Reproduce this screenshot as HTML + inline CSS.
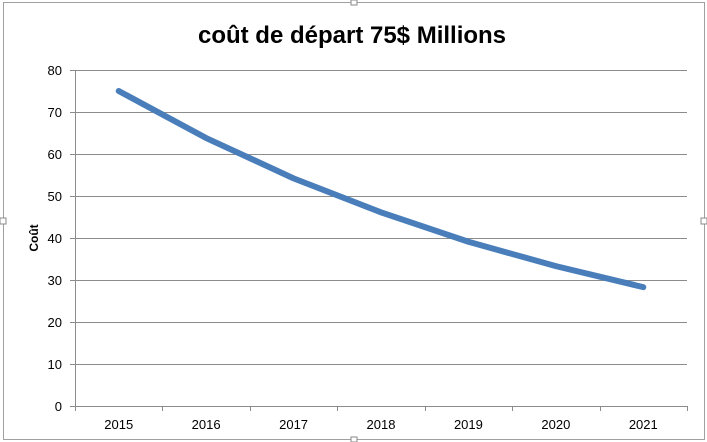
<!DOCTYPE html>
<html><head><meta charset="utf-8"><style>
body{margin:0;width:707px;height:442px;background:#fff;overflow:hidden}
svg{display:block;font-family:"Liberation Sans",Calibri,sans-serif}
</style></head><body>
<svg width="707" height="442">
<rect x="3.5" y="2.5" width="701" height="437" fill="#fff" stroke="#a0a0a0"/>
<rect x="351" y="0" width="6" height="5" fill="#fff" stroke="#888"/>
<rect x="351" y="437" width="6" height="5" fill="#fff" stroke="#888"/>
<rect x="0" y="218" width="6" height="6" fill="#fff" stroke="#888"/>
<rect x="701" y="218" width="6" height="6" fill="#fff" stroke="#888"/>
<text x="352" y="43" text-anchor="middle" font-size="24" font-weight="bold" fill="#000">coût de départ 75$ Millions</text>
<text transform="translate(38,238) rotate(-90)" text-anchor="middle" font-size="12" font-weight="bold">Coût</text>
<g id="grid"></g><g id="axes"></g><g id="series"></g>
</svg>
<script>
const categories=["2015","2016","2017","2018","2019","2020","2021"];
const values=[75,63.8,54.2,46.1,39.1,33.3,28.3];
const yTicks=[0,10,20,30,40,50,60,70,80];
const x0=75,x1=687,yTop=70,yBot=406,yMax=80;
const bw=(x1-x0)/categories.length;
const xs=i=>x0+bw*(i+0.5);
const ys=v=>yBot-(v/yMax)*(yBot-yTop);
const NS="http://www.w3.org/2000/svg";
function mk(p,t,a){const e=document.createElementNS(NS,t);for(const k in a)e.setAttribute(k,a[k]);p.appendChild(e);return e;}
const grid=document.getElementById('grid'),axes=document.getElementById('axes'),ser=document.getElementById('series');
yTicks.forEach(v=>{
 const y=Math.round(ys(v))+0.5;
 if(v>0){const l=mk(grid,'line',{x1:x0,x2:x1,y1:y,y2:y,stroke:'#8c8c8c','stroke-width':1});
 
 }
 const tk=mk(axes,'line',{x1:x0-5,x2:x0,y1:y,y2:y,stroke:'#8c8c8c'});
 
 
 const t=mk(axes,'text',{x:x0-13,y:y+4.5,'text-anchor':'end','font-size':13});
 t.textContent=v;
 
 
});
const ya=mk(axes,'line',{x1:x0+0.5,x2:x0+0.5,y1:yTop,y2:yBot+5,stroke:'#8c8c8c'});


const xa=mk(axes,'line',{x1:x0,x2:x1,y1:yBot+0.5,y2:yBot+0.5,stroke:'#8c8c8c'});


for(let i=0;i<=categories.length;i++){
 const x=Math.round(x0+bw*i)+0.5;
 const tk=mk(axes,'line',{x1:x,x2:x,y1:yBot,y2:yBot+5,stroke:'#8c8c8c'});
 
 
}
categories.forEach((c,i)=>{
 const t=mk(axes,'text',{x:xs(i),y:yBot+23,'text-anchor':'middle','font-size':13});
 t.textContent=c;
 
 
});
const pl=mk(ser,'polyline',{points:values.map((v,i)=>xs(i)+','+ys(v)).join(' '),fill:'none',stroke:'#4a7ebb','stroke-width':6,'stroke-linecap':'round','stroke-linejoin':'round'});


</script>
</body></html>
